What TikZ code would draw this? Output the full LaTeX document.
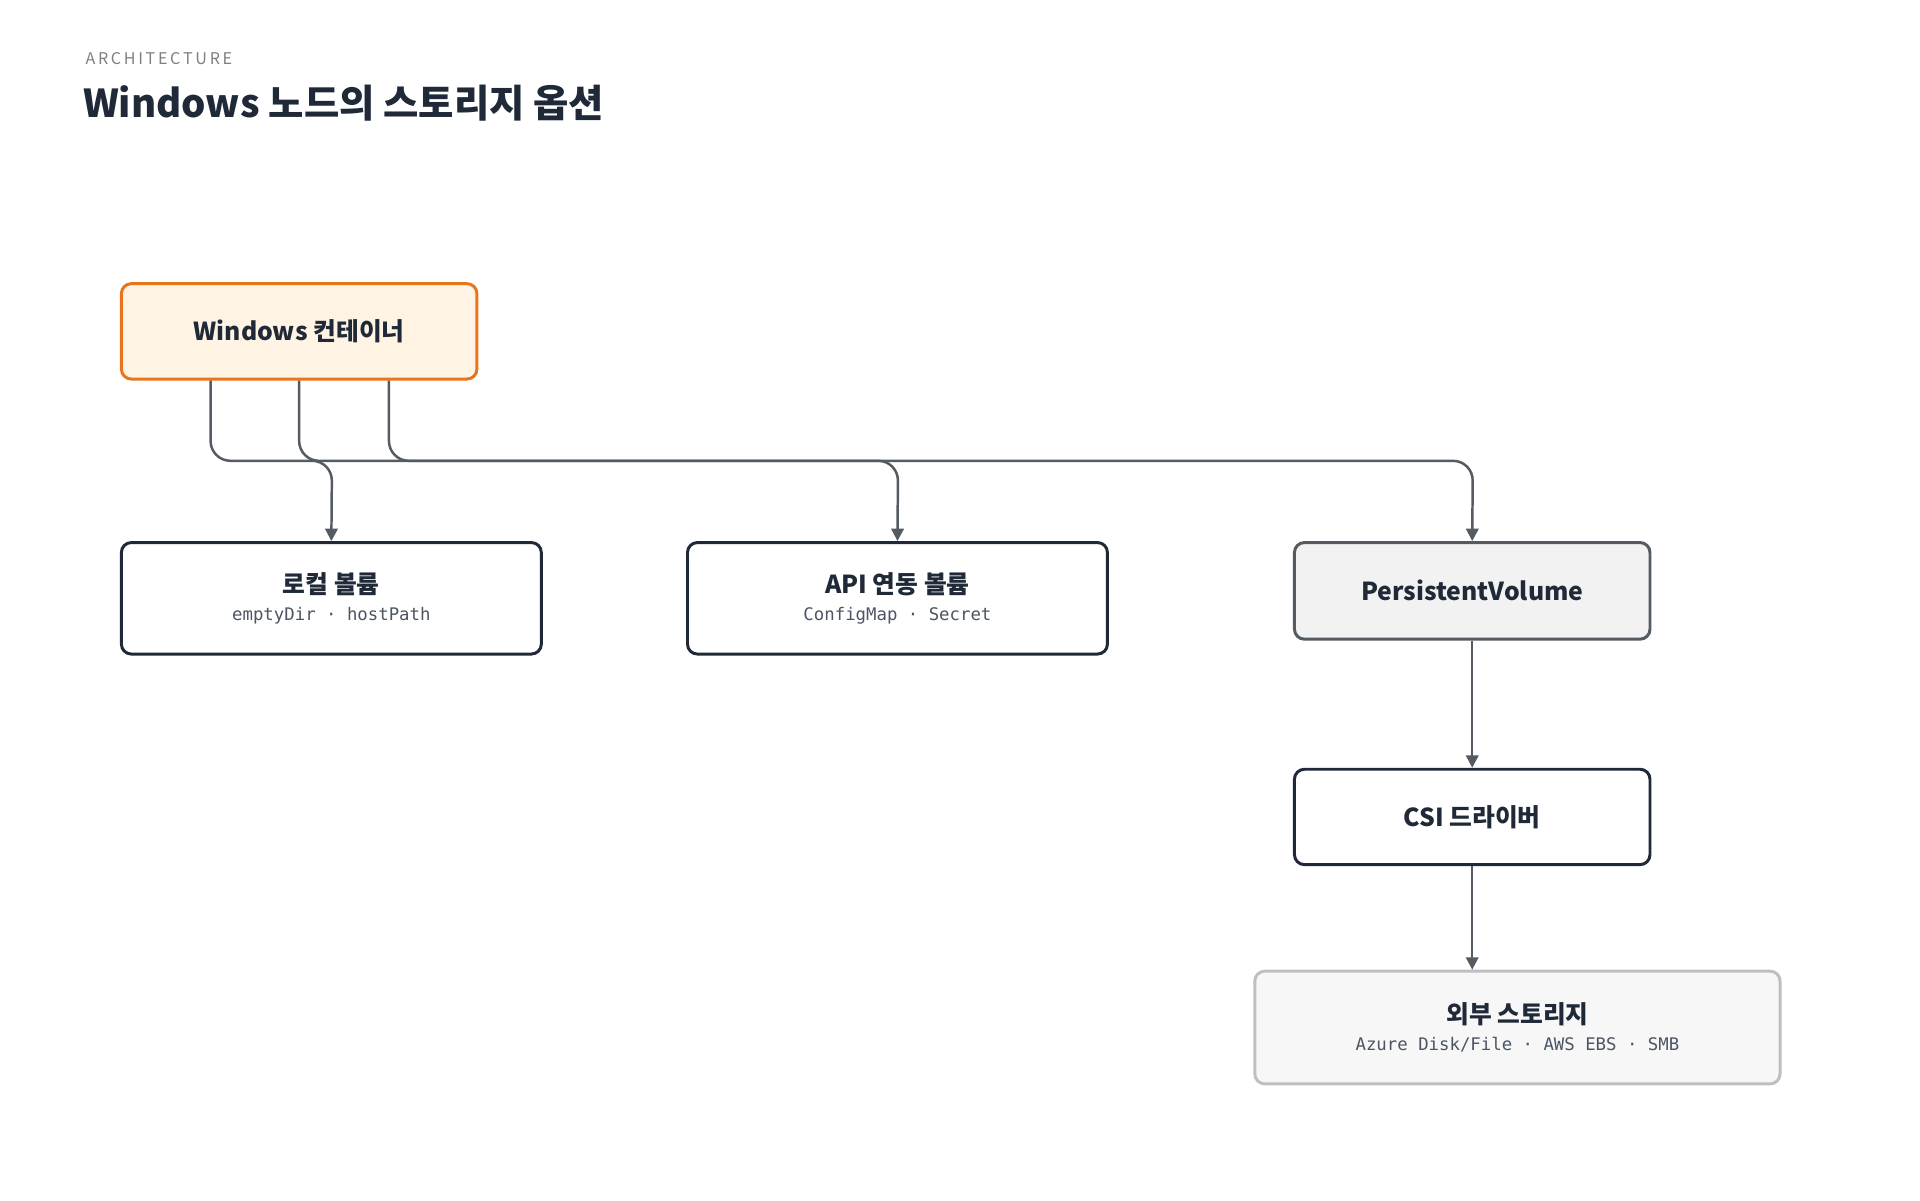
\documentclass[tikz,border=0pt]{standalone}
\usepackage{fontspec}
\setmainfont{Noto Sans CJK KR}
\setmonofont{DejaVu Sans Mono}
\usetikzlibrary{arrows.meta, positioning, calc}
\definecolor{ink}{HTML}{1F2937}
\definecolor{wire}{HTML}{555B63}
\definecolor{orangeedge}{HTML}{E8741C}
\definecolor{orangefill}{HTML}{FFF4E3}
\definecolor{subtext}{HTML}{4B5563}
\tikzset{
  box/.style={draw=ink, line width=1.2pt, rounded corners=4pt, fill=white, text=ink},
  arr/.style={draw=wire, line width=1pt, rounded corners=8pt, -{Triangle[length=5pt,width=5pt]}},
  ttl/.style={font=\fontsize{10}{12}\selectfont\bfseries},
  sub/.style={font=\fontsize{7}{9}\ttfamily, text=subtext}
}
\begin{document}
\begin{tikzpicture}[x=0.5pt, y=-0.5pt]
        % Canvas
        \useasboundingbox[fill=white] (0,0) rectangle (1550,969);
        % Header
        \node[anchor=west, text=gray, font=\fontsize{6.5}{8}\selectfont] (kicker) at (62,47) {A\,R\,C\,H\,I\,T\,E\,C\,T\,U\,R\,E};
        \node[anchor=west, text=ink, font=\fontsize{15.5}{18}\selectfont\bfseries] (title) at (60,83) {Windows 노드의 스토리지 옵션};
        % Boxes
        \node[box, draw=orangeedge, fill=orangefill, minimum width=143.5pt, minimum height=38.5pt, ttl] (cont) at (241.5,267.5) {Windows 컨테이너};
        \node[box, minimum width=169.5pt, minimum height=45pt, align=center] (local) at (267.5,483)
            {{\fontsize{10}{12}\selectfont\bfseries 로컬 볼륨}\\[-1pt]{\fontsize{7}{9}\ttfamily\color{subtext} emptyDir · hostPath}};
        \node[box, minimum width=169.5pt, minimum height=45pt, align=center] (api) at (724.5,483)
            {{\fontsize{10}{12}\selectfont\bfseries API 연동 볼륨}\\[-1pt]{\fontsize{7}{9}\ttfamily\color{subtext} ConfigMap · Secret}};
        \node[box, draw=wire, fill=gray!10, minimum width=143.5pt, minimum height=39pt, ttl] (pv) at (1188.5,477) {PersistentVolume};
        \node[box, minimum width=143.5pt, minimum height=38.5pt, ttl] (csi) at (1188.5,659.5) {CSI 드라이버};
        \node[box, draw=gray!50, fill=gray!6, minimum width=212pt, minimum height=45.5pt, align=center] (ext) at (1225,829.5)
            {{\fontsize{10}{12}\selectfont\bfseries 외부 스토리지}\\[-1pt]{\fontsize{7}{9}\ttfamily\color{subtext} Azure Disk/File · AWS EBS · SMB}};
        % Junctions
        \coordinate (j1) at (268,372);
        \coordinate (j2) at (725,372);
        \coordinate (j3) at (1189,372);
        % Connectors
        \draw[arr] ($(cont.south)+(-71.5,0)$) |- (j1) -- (local.north);
        \draw[arr] (cont.south) |- (j2) -- (api.north);
        \draw[arr] ($(cont.south)+(72.5,0)$) |- (j3) -- (pv.north);
        \draw[arr] (pv) -- (csi);
        \draw[arr] (csi.south) -- (csi.south |- ext.north);
\end{tikzpicture}
\end{document}
